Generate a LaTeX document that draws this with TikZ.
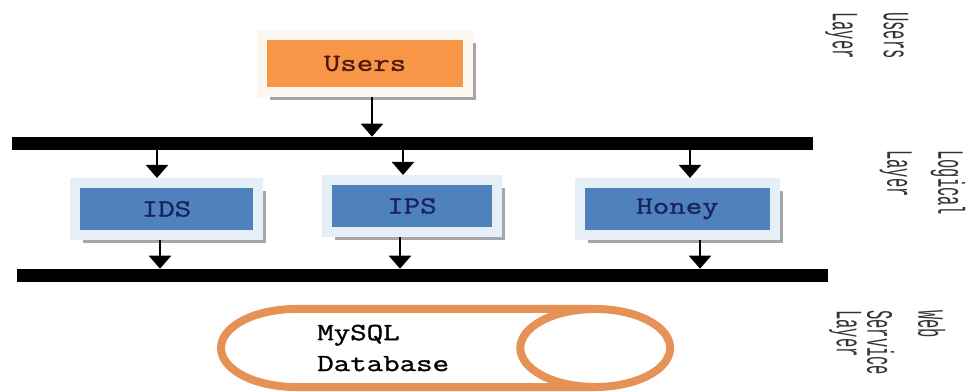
\documentclass[tikz,border=0pt]{standalone}
\usepackage{fontspec}
\setmainfont{Liberation Mono}
\newfontfamily\boxfont{Latin Modern Mono}[FakeStretch=1.3,FakeBold=1.2]
\usetikzlibrary{arrows.meta,shapes.geometric,shadows,positioning,calc}
\definecolor{usersorange}{RGB}{247,150,70}
\definecolor{usersframe}{RGB}{252,246,240}
\definecolor{guardblue}{RGB}{79,129,189}
\definecolor{guardframe}{RGB}{230,238,248}
\definecolor{shadowgray}{RGB}{165,165,170}
\definecolor{dbline}{RGB}{230,146,86}
\definecolor{userstext}{RGB}{80,25,15}
\definecolor{guardtext}{RGB}{25,35,90}
\tikzset{
  basic/.style = {rectangle, line width=0.25cm, minimum height=1.3cm, inner sep=0pt,
    font=\boxfont\fontsize{17.5}{22}\selectfont,
    drop shadow={shadow xshift=0.2cm, shadow yshift=-0.2cm, fill=shadowgray, opacity=1}},
  users/.style = {basic, fill=usersorange, draw=usersframe, text=userstext},
  guard/.style = {basic, fill=guardblue, draw=guardframe, text=guardtext},
  bus/.style   = {rectangle, fill=black, inner sep=0pt, minimum height=0.325cm},
  flow/.style  = {-{Triangle[width=0.55cm,length=0.325cm]}, line width=0.05cm},
  layer/.style = {rotate=-90, yscale=2.4, anchor=north west, inner sep=0pt, align=left,
    font=\fontsize{11}{15.1}\selectfont, text=black!80},
  store/.style = {cylinder, draw=dbline, line width=0.2cm, fill=white, aspect=1.92,
    minimum height=11.225cm, minimum width=1.95cm, inner xsep=0pt, inner ysep=0.975cm}
}

\begin{document}
\begin{tikzpicture}[x=0.025cm, y=-0.025cm]
\useasboundingbox (0,0) rectangle (968,392);

% users layer
\node[users, minimum width=5.15cm, minimum height=1.425cm] (users) at (365,63.5) {Users};

% logical layer: two buses and the three guards between them
\node[bus, minimum width=20.025cm] (topbus) at (412.5,143.5) {};
\node[bus, minimum width=20.275cm] (lowbus) at (422.5,275.5) {};
\node[guard, minimum width=4.575cm] (ids) at (166.5,209) {IDS};
\node[guard, minimum width=4.25cm] (ips) at (412,206) {IPS};
\node[guard, minimum width=4.875cm] (honey) at (677.5,209) {Honey};

% web service layer
\node[store, anchor=west] (db) at (217,348) {};
\node[anchor=west, align=left, inner sep=0pt, font=\boxfont\fontsize{17.5}{22}\selectfont] (dbname) at (317,348) {MySQL\\Database};

% layer names at the right
\node[layer] (userslayer) at (909,12) {Users\\Layer};
\node[layer] (logiclayer) at (966,150) {Logical\\Layer};
\node[layer] (weblayer) at (946,310) {Web\\Service\\[-6pt]Layer};

% arrows
\draw[flow] ($(users.south)+(7,0)$) -- ($(users.south |- topbus.north)+(7,0)$);
\draw[flow] ($(ids.north |- topbus.south)+(-9.5,0)$) -- ($(ids.north)+(-9.5,0)$);
\draw[flow] ($(ips.north |- topbus.south)+(-9,0)$) -- ($(ips.north)+(-9,0)$);
\draw[flow] ($(honey.north |- topbus.south)+(12.5,0)$) -- ($(honey.north)+(12.5,0)$);
\draw[flow] ($(ids.south)+(-6.5,0)$) -- ($(ids.south |- lowbus.north)+(-6.5,0)$);
\draw[flow] ($(ips.south)+(-12,0)$) -- ($(ips.south |- lowbus.north)+(-12,0)$);
\draw[flow] ($(honey.south)+(22.5,0)$) -- ($(honey.south |- lowbus.north)+(22.5,0)$);

\end{tikzpicture}
\end{document}
